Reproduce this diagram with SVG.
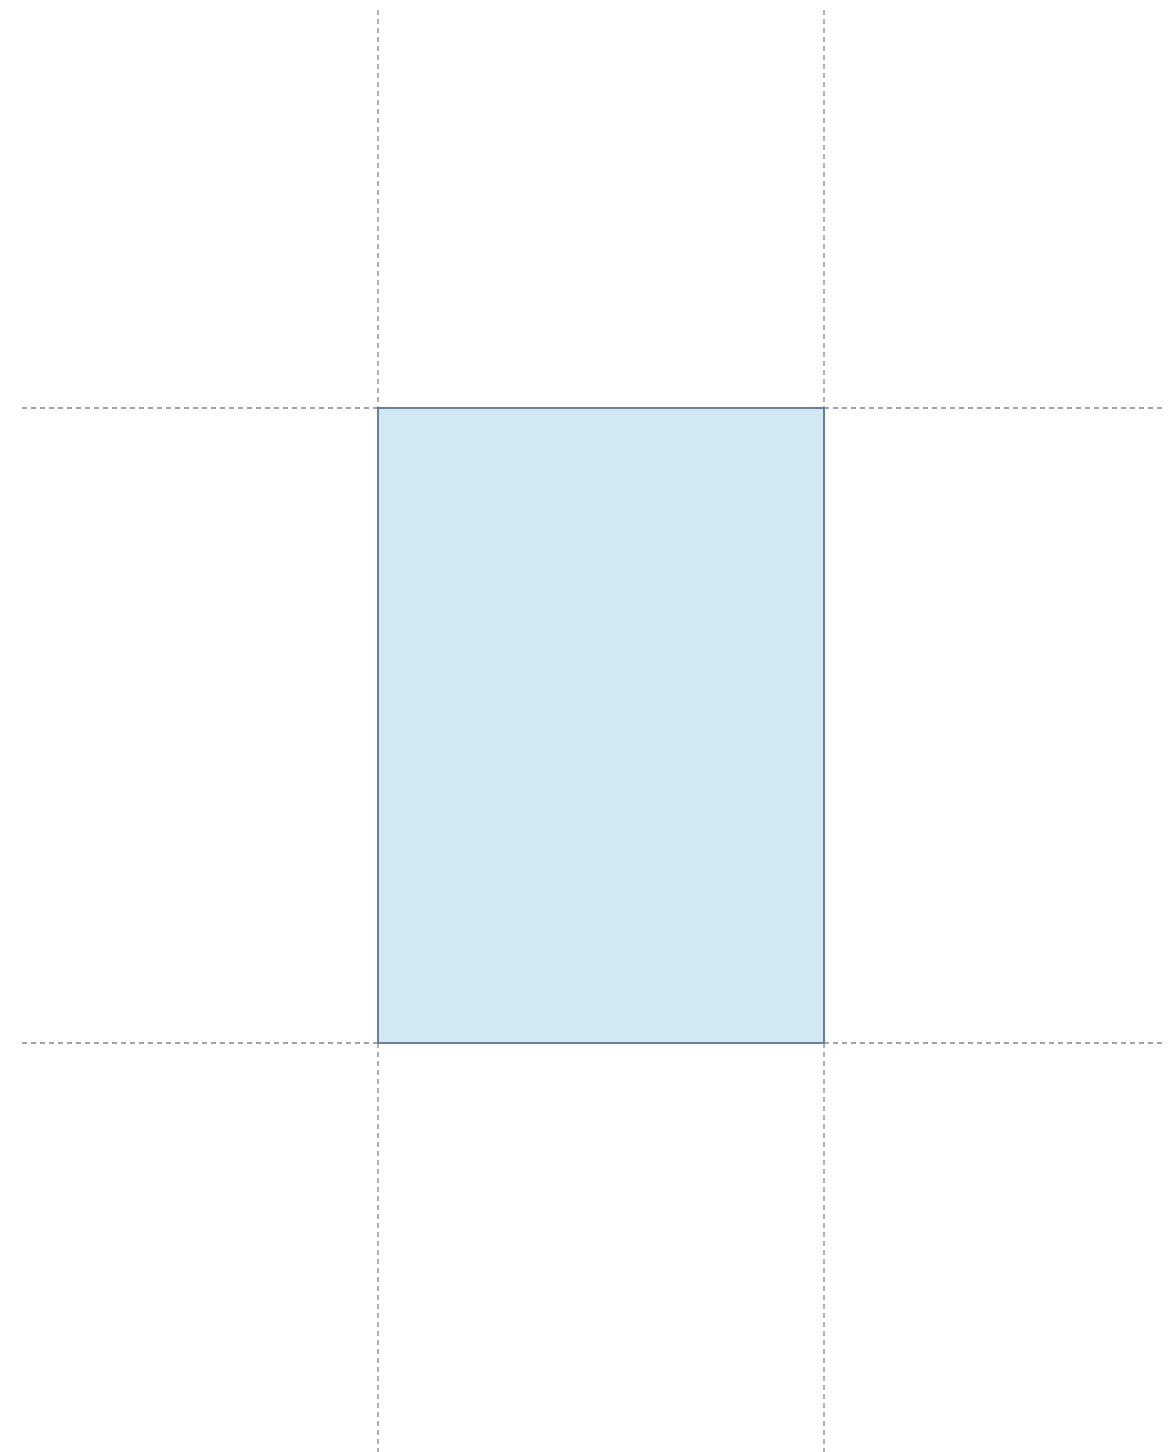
<svg xmlns="http://www.w3.org/2000/svg" width="1168" height="1452" viewBox="0 0 1168 1452">
<style>
.guide{stroke:#7d879a;stroke-width:1.3;stroke-dasharray:5 4;fill:none}
.box{fill:#d2e9f4;stroke:#6b7f9c;stroke-width:2}
</style>
<rect width="1168" height="1452" fill="#ffffff"/>
<g id="guides">
<line class="guide" x1="22" y1="408" x2="377" y2="408"/>
<line class="guide" x1="824" y1="408" x2="1164" y2="408"/>
<line class="guide" x1="22" y1="1043" x2="377" y2="1043"/>
<line class="guide" x1="824" y1="1043" x2="1164" y2="1043"/>
<line class="guide" x1="378" y1="10" x2="378" y2="408"/>
<line class="guide" x1="378" y1="1043" x2="378" y2="1452"/>
<line class="guide" x1="824" y1="10" x2="824" y2="408"/>
<line class="guide" x1="824" y1="1043" x2="824" y2="1452"/>
</g>
<g id="box">
<rect class="box" x="378" y="408" width="446" height="635"/>
</g>
</svg>
